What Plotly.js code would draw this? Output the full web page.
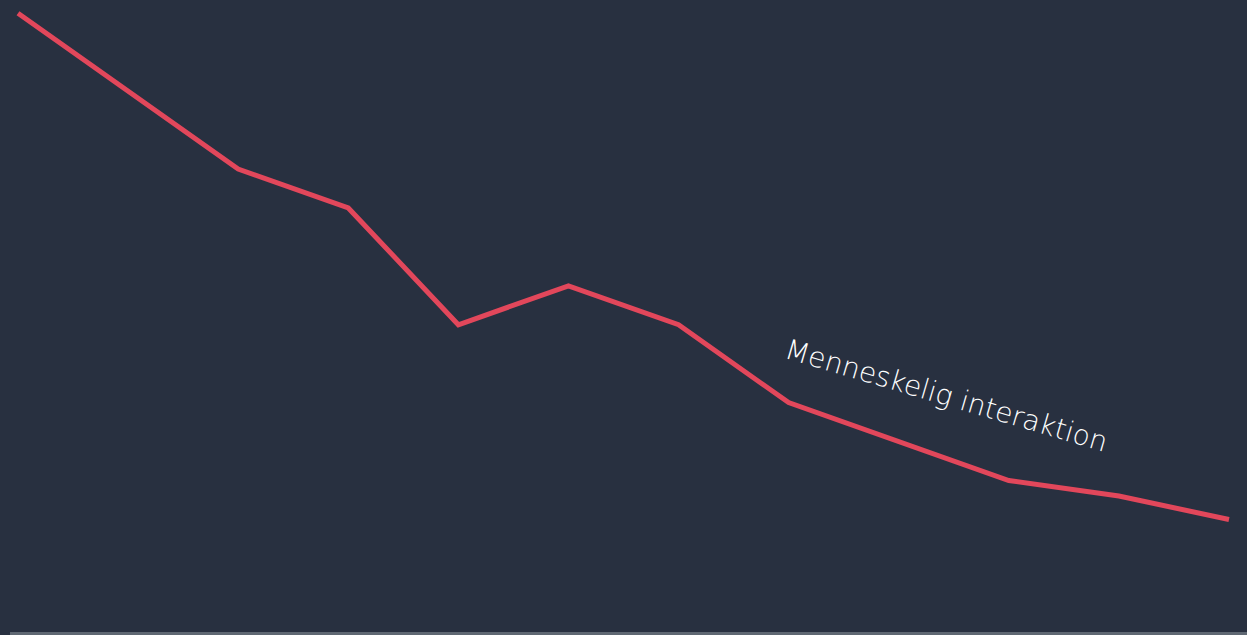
<!DOCTYPE html>
<html>
<head>
<meta charset="utf-8">
<script src="https://cdn.plot.ly/plotly-3.0.1.min.js"></script>
<style>
html,body{margin:0;padding:0;background:#283040;}
#chart{width:1247px;height:635px;}
</style>
</head>
<body>
<div id="chart"></div>
<script>
// Data
const periods = [0, 1, 2, 3, 4, 5, 6, 7, 8, 9, 10, 11];
const humanInteraction = [100, 87.5, 75, 68.75, 50, 56.25, 50, 37.5, 31.25, 25, 22.5, 18.75];
const seriesLabel = "Menneskelig interaktion";

const trace = {
  x: periods,
  y: humanInteraction,
  type: "scatter",
  mode: "lines",
  line: {color: "#e2475b", width: 5, shape: "linear"},
  hoverinfo: "skip"
};

const layout = {
  width: 1247,
  height: 635,
  margin: {l: 0, r: 0, t: 0, b: 0, pad: 0},
  paper_bgcolor: "#283040",
  plot_bgcolor: "#283040",
  showlegend: false,
  xaxis: {range: [-0.1635, 11.1635], showgrid: false, zeroline: false, showticklabels: false, showline: false, fixedrange: true},
  yaxis: {range: [0.2, 102.13], showgrid: false, zeroline: false, showticklabels: false, showline: false, fixedrange: true},
  shapes: [{
    type: "rect", xref: "paper", yref: "paper",
    x0: 10/1247, x1: 1, y0: 0, y1: 3/635,
    fillcolor: "#5f6873", line: {width: 0}
  }],
  annotations: [{
    x: 8.43, y: 38.6, xref: "x", yref: "y",
    text: seriesLabel, showarrow: false,
    textangle: 16.4,
    xanchor: "center", yanchor: "middle",
    font: {family: "'DejaVu Sans', sans-serif", size: 28, color: "#ffffff", weight: 200}
  }]
};

Plotly.newPlot("chart", [trace], layout, {displayModeBar: false, staticPlot: true});
</script>
</body>
</html>
